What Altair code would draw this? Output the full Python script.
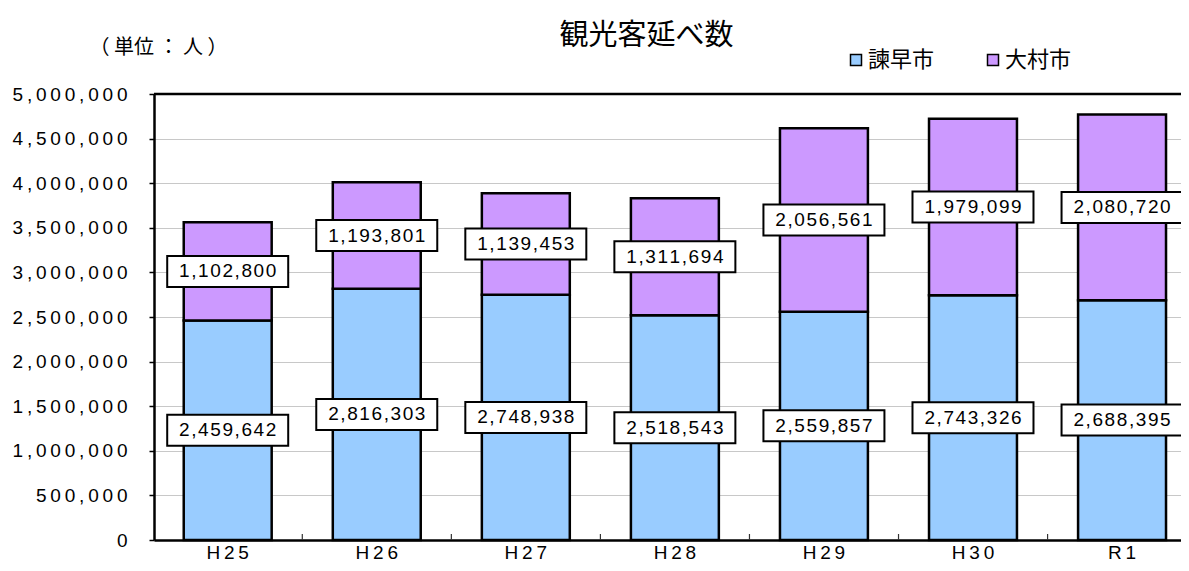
import altair as alt
import pandas as pd

years = ["H25", "H26", "H27", "H28", "H29", "H30", "R1"]
isahaya = [2459642, 2816303, 2748938, 2518543, 2559857, 2743326, 2688395]
omura = [1102800, 1193801, 1139453, 1311694, 2056561, 1979099, 2080720]
cities = ["諫早市", "大村市"]
colors = ["#99CCFF", "#CC99FF"]
y_ticks = [0, 500000, 1000000, 1500000, 2000000, 2500000, 3000000, 3500000, 4000000, 4500000, 5000000]

rows = []
for i, y in enumerate(years):
    rows.append({"year": y, "city": cities[0], "value": isahaya[i], "ord": 0})
    rows.append({"year": y, "city": cities[1], "value": omura[i], "ord": 1})
df = pd.DataFrame(rows)

LATIN = "Liberation Sans, Arial, DejaVu Sans, Noto Sans CJK JP"
CJK = "Noto Sans CJK JP"
HAIR = "\u200a"
THIN = "\u2009"

base = alt.Chart(df).transform_stack(
    stack="value", groupby=["year"], sort=[alt.SortField("ord", order="ascending")], as_=["v0", "v1"]
).transform_calculate(
    mid="(datum.v0 + datum.v1) / 2",
    lbl="join(split(format(datum.value, ','), ''), '" + HAIR + "')",
)

xscale = alt.Scale(paddingInner=0.41, paddingOuter=0.15, align=0.665)

xenc = alt.X(
    "year:N",
    sort=years,
    scale=xscale,
    axis=alt.Axis(
        title=None,
        labelAngle=0,
        labelFont=LATIN,
        labelFontSize=19,
        labelColor="black",
        labelPadding=22,
        labelBaseline="bottom",
        labelExpr="join(split(datum.label, ''), '" + THIN + "')",
        ticks=False,
        domainColor="black",
        domainWidth=2.5,
    ),
)

yscale = alt.Scale(domain=[0, 5000000], nice=False)

bars = base.mark_bar(stroke="black", strokeWidth=2.5).encode(
    x=xenc,
    y=alt.Y(
        "v0:Q",
        scale=yscale,
        axis=alt.Axis(
            values=y_ticks,
            title="（ 単位 ： 人 ）",
            titleAngle=0,
            titleFont=CJK,
            titleFontSize=20,
            titleFontWeight="normal",
            titleColor="black",
            titleX=4,
            titleY=-47,
            titleAlign="center",
            titleBaseline="middle",
            labelFont=LATIN,
            labelFontSize=19,
            labelColor="black",
            labelPadding=22,
            labelExpr="join(split(format(datum.value, ','), ''), '" + THIN + "')",
            tickSize=5,
            tickColor="black",
            tickWidth=1.5,
            domainColor="black",
            domainWidth=2.5,
            gridColor="#c8c8c8",
            gridWidth=1,
        ),
    ),
    y2="v1:Q",
    color=alt.Color(
        "city:N",
        scale=alt.Scale(domain=cities, range=colors),
        legend=alt.Legend(
            title=None,
            orient="none",
            direction="horizontal",
            legendX=691,
            legendY=-45,
            symbolType="square",
            symbolSize=121,
            symbolStrokeColor="black",
            symbolStrokeWidth=1.5,
            symbolOpacity=1,
            labelFont=CJK,
            labelFontSize=22,
            labelColor="black",
            labelOffset=1,
            columnPadding=47,
        ),
    ),
    order=alt.Order("ord:Q"),
)

boxes = base.mark_point(
    shape="M-1,-0.256 H1 V0.256 H-1 Z",
    filled=True,
    fill="white",
    stroke="black",
    strokeWidth=2,
    opacity=1,
    size=14641,
).encode(x=alt.X("year:N", sort=years), y=alt.Y("mid:Q", scale=yscale))

labels = base.mark_text(
    font=LATIN, fontSize=19, color="black", align="center", baseline="middle"
).encode(x=alt.X("year:N", sort=years), y=alt.Y("mid:Q", scale=yscale), text="lbl:N")

top_line = alt.Chart(pd.DataFrame({"top": [5000000]})).mark_rule(
    color="black", strokeWidth=2.5
).encode(y=alt.Y("top:Q", scale=yscale))

# small inward category-separator ticks on the x axis (between bars)
sep = alt.Chart(pd.DataFrame({"year": years[1:]})).mark_rule(
    color="#333333", strokeWidth=1.2, xOffset=-30.5
).encode(
    x=alt.X("year:N", sort=years, bandPosition=0),
    y=alt.value(446),
    y2=alt.value(440),
)

chart = alt.layer(bars, boxes, labels, top_line, sep).properties(
    width=1027,
    height=446,
    title=alt.TitleParams(
        text="観光客延べ数",
        font=CJK,
        fontSize=29,
        fontWeight="normal",
        color="black",
        anchor="middle",
        frame="group",
        dx=-21,
        dy=18,
    ),
    autosize=alt.AutoSizeParams(type="none"),
    padding={"left": 146, "top": 86, "right": 0, "bottom": 23},
).configure_view(stroke=None).configure(background="white")

chart.save("out.html", embed_options={"renderer": "svg", "actions": False})
